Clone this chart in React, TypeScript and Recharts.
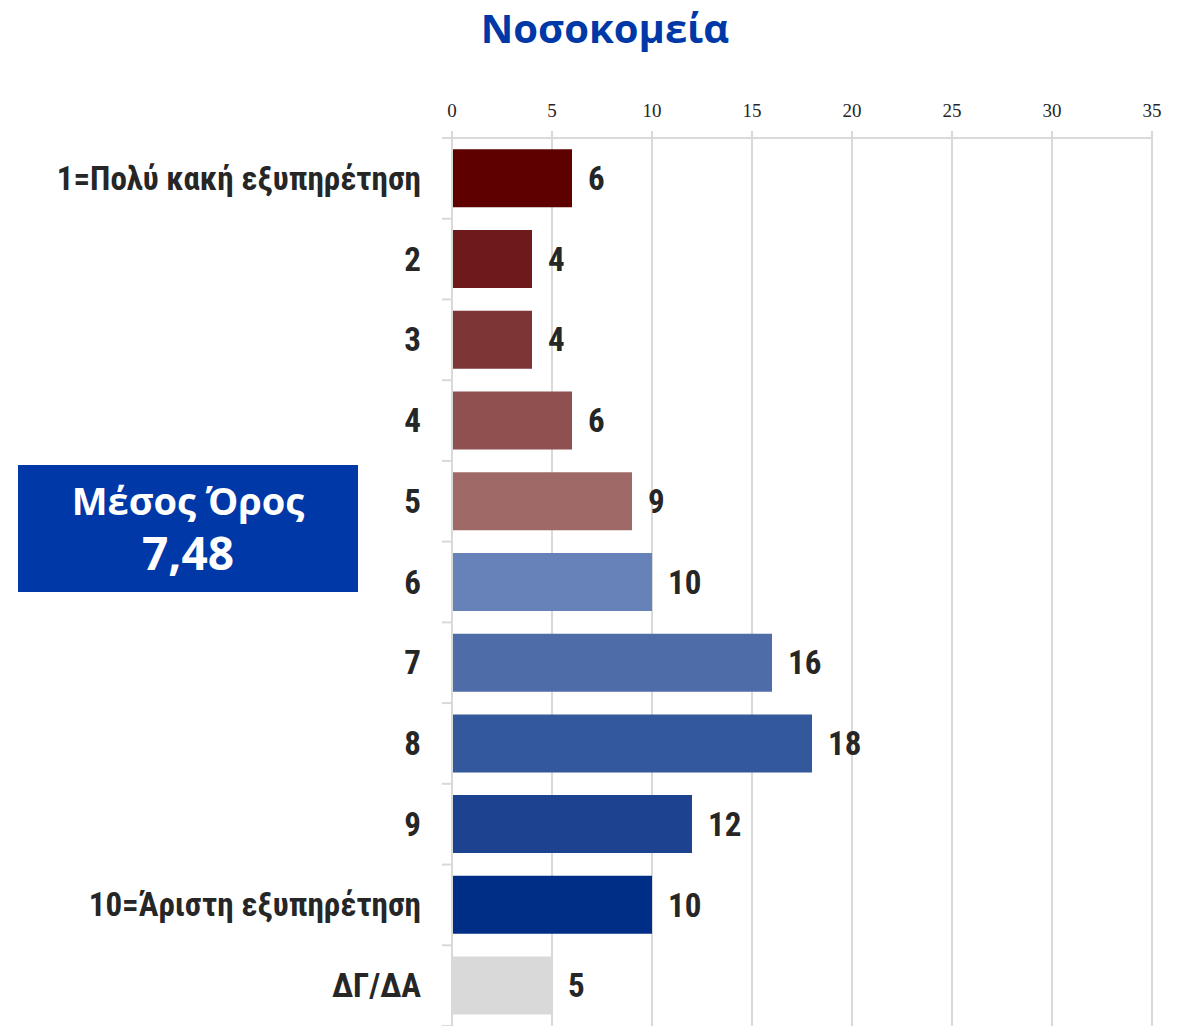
import { Bar, BarChart, CartesianGrid, Cell, LabelList, XAxis, YAxis } from "recharts";

const categories = [
  "1=Πολύ κακή εξυπηρέτηση",
  "2",
  "3",
  "4",
  "5",
  "6",
  "7",
  "8",
  "9",
  "10=Άριστη εξυπηρέτηση",
  "ΔΓ/ΔΑ",
];
const values = [6, 4, 4, 6, 9, 10, 16, 18, 12, 10, 5];
const barColors = [
  "#5e0000",
  "#6e1a1a",
  "#7d3535",
  "#8f5050",
  "#9e6966",
  "#6682b8",
  "#4e6ca8",
  "#33589c",
  "#1c4290",
  "#002d86",
  "#d9d9d9",
];
const xTicks = [0, 5, 10, 15, 20, 25, 30, 35];
const meanLabel = "Μέσος Όρος";
const meanValue = "7,48";
const title = "Νοσοκομεία";

const data = categories.map((name, i) => ({ name, value: values[i] }));

const labelFont = "'Liberation Sans Narrow', 'Roboto Condensed', 'Arial Narrow', sans-serif";

function CategoryTick(props: any) {
  const { x, y, payload, index } = props;
  const half = payload.offset || 0;
  return (
    <g>
      <line x1={x + 21} x2={x + 32} y1={y - half} y2={y - half} stroke="#d9d9d9" strokeWidth={2} />
      {index === categories.length - 1 && (
        <line x1={x + 21} x2={x + 32} y1={y + half} y2={y + half} stroke="#d9d9d9" strokeWidth={2} />
      )}
      <text
        x={x}
        y={y}
        textAnchor="end"
        dominantBaseline="central"
        fill="#262626"
        fontFamily={labelFont}
        fontWeight="bold"
        fontSize={33}
      >
        {payload.value}
      </text>
    </g>
  );
}

export default function App() {
  return (
    <div style={{ position: "absolute", left: 0, top: 0, width: 1191, height: 1026, background: "#fff" }}>
      <div
        style={{
          position: "absolute",
          left: 0,
          top: 0,
          width: 1191,
          paddingLeft: 19,
          boxSizing: "border-box",
          textAlign: "center",
          fontFamily: "'Open Sans', Arial, sans-serif",
          fontWeight: 700,
          fontSize: 40,
          color: "#0038a8",
          lineHeight: "56px",
        }}
      >
        {title}
      </div>
      <div
        style={{
          position: "absolute",
          left: 18,
          top: 465,
          width: 340,
          height: 127,
          background: "#0038a8",
          color: "#fff",
          fontFamily: "'Open Sans', Arial, sans-serif",
          fontWeight: 700,
          textAlign: "center",
          zIndex: 2,
        }}
      >
        <div style={{ position: "absolute", left: 0, right: 0, top: 13, fontSize: 38, lineHeight: "44px" }}>
          {meanLabel}
        </div>
        <div style={{ position: "absolute", left: 0, right: 0, top: 60, fontSize: 46, lineHeight: "54px" }}>
          {meanValue}
        </div>
      </div>
      <BarChart
        width={1191}
        height={1026}
        data={data}
        layout="vertical"
        margin={{ top: 88, right: 39, bottom: 0, left: 0 }}
        barCategoryGap="14%"
      >
        <CartesianGrid horizontal={false} stroke="#d9d9d9" strokeWidth={2} />
        <XAxis
          type="number"
          orientation="top"
          domain={[0, 35]}
          ticks={xTicks}
          height={50}
          tickSize={7}
          axisLine={{ stroke: "#d9d9d9", strokeWidth: 2 }}
          tickLine={{ stroke: "#d9d9d9", strokeWidth: 2 }}
          tick={{ fill: "#262626", fontSize: 19, fontFamily: "'Liberation Serif', serif" }}
          tickMargin={14}
        />
        <YAxis
          type="category"
          dataKey="name"
          width={452}
          axisLine={{ stroke: "#d9d9d9", strokeWidth: 2 }}
          tickLine={false}
          tickMargin={0}
          tick={(p: any) => <CategoryTick {...p} x={p.x - 25} />}
          interval={0}
        />
        <Bar dataKey="value" isAnimationActive={false}>
          {data.map((d, i) => (
            <Cell key={d.name} fill={barColors[i]} />
          ))}
          <LabelList
            dataKey="value"
            position="right"
            offset={16}
            fill="#262626"
            fontFamily={labelFont}
            fontWeight="bold"
            fontSize={33}
          />
        </Bar>
      </BarChart>
    </div>
  );
}
